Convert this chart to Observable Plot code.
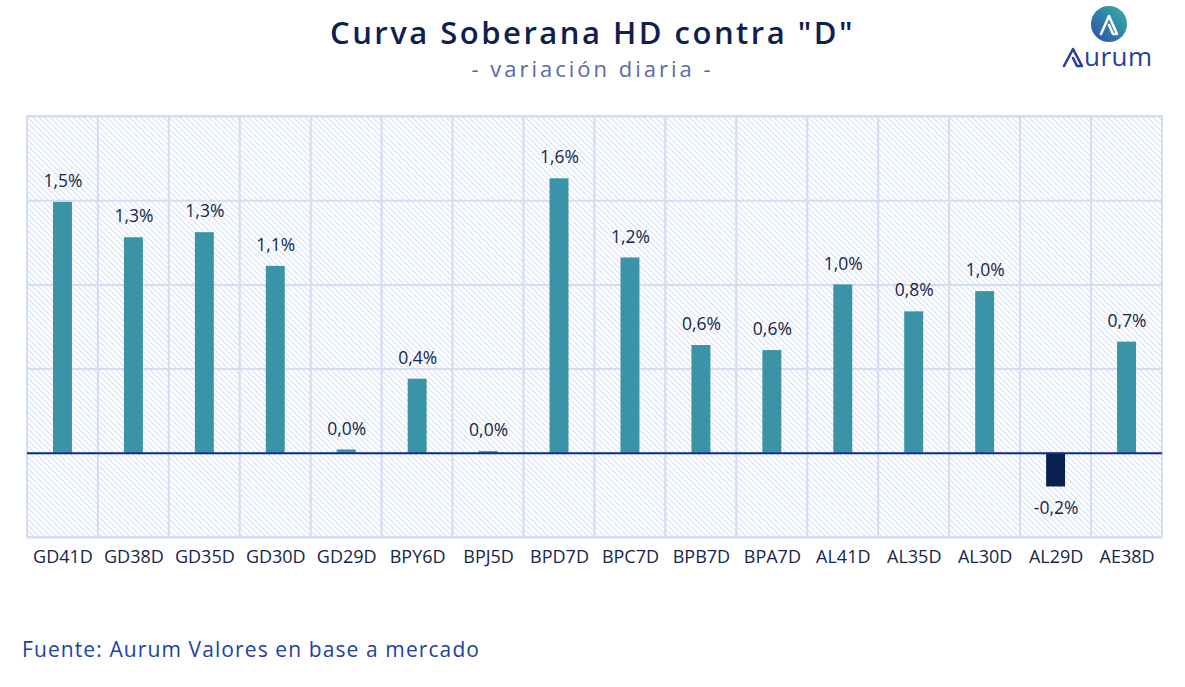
<!DOCTYPE html>
<html><head><meta charset="utf-8">
<script src="https://cdn.jsdelivr.net/npm/d3@7"></script>
<script src="https://cdn.jsdelivr.net/npm/@observablehq/plot@0.6"></script>
<style>
body{margin:0;background:#fff;font-family:"Open Sans","Noto Sans",sans-serif;}
#wrap{position:relative;width:1185px;height:687px;overflow:hidden;}
#title{position:absolute;left:0;width:1185px;top:14px;line-height:36px;height:36px;text-align:center;font-size:31px;font-weight:600;color:#0f2050;letter-spacing:2.5px;}
#subtitle{position:absolute;left:0;width:1185px;top:55px;line-height:26px;height:26px;text-align:center;font-size:22px;color:#5b6aa8;letter-spacing:3px;}
#caption{position:absolute;left:22px;top:635px;font-size:21px;color:#2242a0;letter-spacing:1.1px;}
#chart{position:absolute;left:0;top:0;}
#logo{position:absolute;left:1055px;top:4px;}
</style></head>
<body><div id="wrap">
<div id="chart"></div>
<div id="title">Curva Soberana HD contra "D"</div>
<div id="subtitle">- variación diaria -</div>
<div id="caption">Fuente: Aurum Valores en base a mercado</div>
<svg id="logo" width="120" height="70" viewBox="0 0 120 70">
<defs><linearGradient id="lg" x1="0" y1="1" x2="1" y2="0"><stop offset="0" stop-color="#2a4fa8"/><stop offset="1" stop-color="#3ab0a8"/></linearGradient></defs>
<circle cx="54" cy="20" r="18" fill="url(#lg)"/>
<path d="M46 30 L54 12 L62 30 L58 30 L54 21" fill="none" stroke="#fff" stroke-width="2.5" stroke-linejoin="round" stroke-linecap="round"/>
<path d="M9 62 L18 45 L27 62 L22 62 L18 54" fill="none" stroke="#2a3f9a" stroke-width="2.6" stroke-linejoin="round" stroke-linecap="round"/>
<text x="29" y="62" font-size="26" fill="#2a3f9a" font-family="'Open Sans','Noto Sans',sans-serif" letter-spacing="0.5">urum</text>
</svg>
</div>
<script>
const categories = ["GD41D","GD38D","GD35D","GD30D","GD29D","BPY6D","BPJ5D","BPD7D","BPC7D","BPB7D","BPA7D","AL41D","AL35D","AL30D","AL29D","AE38D"];
const values = [1.49, 1.28, 1.31, 1.11, 0.02, 0.44, 0.01, 1.63, 1.16, 0.64, 0.61, 1.00, 0.84, 0.96, -0.20, 0.66];
const gridY = [-0.5, 0, 0.5, 1, 1.5, 2];

const data = categories.map((c, i) => ({name: c, value: values[i]}));
const fmt = v => v.toFixed(1).replace(".", ",") + "%";

const defs = () => {
  const d = d3.create("svg:defs");
  const p = d.append("pattern").attr("id", "hatch").attr("patternUnits", "userSpaceOnUse")
    .attr("width", 4).attr("height", 4).attr("patternTransform", "rotate(-45)");
  p.append("rect").attr("width", 4).attr("height", 4).attr("fill", "#ffffff");
  p.append("line").attr("x1", 0).attr("y1", 0).attr("x2", 0).attr("y2", 4)
    .attr("stroke", "#c9d7f2").attr("stroke-width", 1.6);
  return d.node();
};

const chart = Plot.plot({
  width: 1185,
  height: 687,
  marginLeft: 27,
  marginRight: 23,
  marginTop: 116,
  marginBottom: 150,
  style: {fontFamily: "'Open Sans', 'Noto Sans', sans-serif", background: "transparent"},
  x: {domain: categories, padding: 0, round: false, label: null},
  y: {domain: [-0.5, 2], axis: null},
  marks: [
    defs,
    Plot.barY(categories, {x: d => d, y1: -0.5, y2: 2, fill: "url(#hatch)", stroke: "#d3def5", strokeWidth: 2}),
    Plot.ruleY(gridY, {stroke: "#d3def5", strokeWidth: 2}),
    Plot.barY(data, {x: "name", y: "value", fill: d => d.value < 0 ? "#062050" : "#3a93a6", insetLeft: 26, insetRight: 26}),
    Plot.ruleY([0], {stroke: "#0f2f8a", strokeWidth: 2}),
    Plot.text(data.filter(d => d.value >= 0), {x: "name", y: "value", text: d => fmt(d.value), dy: -21, fontSize: 17.5, fill: "#16264a"}),
    Plot.text(data.filter(d => d.value < 0), {x: "name", y: "value", text: d => fmt(d.value), dy: 21, fontSize: 17.5, fill: "#16264a"}),
    Plot.axisX({tickSize: 0, tickPadding: 13, fontSize: 18, fill: "#16264a", label: null})
  ]
});
document.getElementById("chart").appendChild(chart);
</script>
</body></html>
